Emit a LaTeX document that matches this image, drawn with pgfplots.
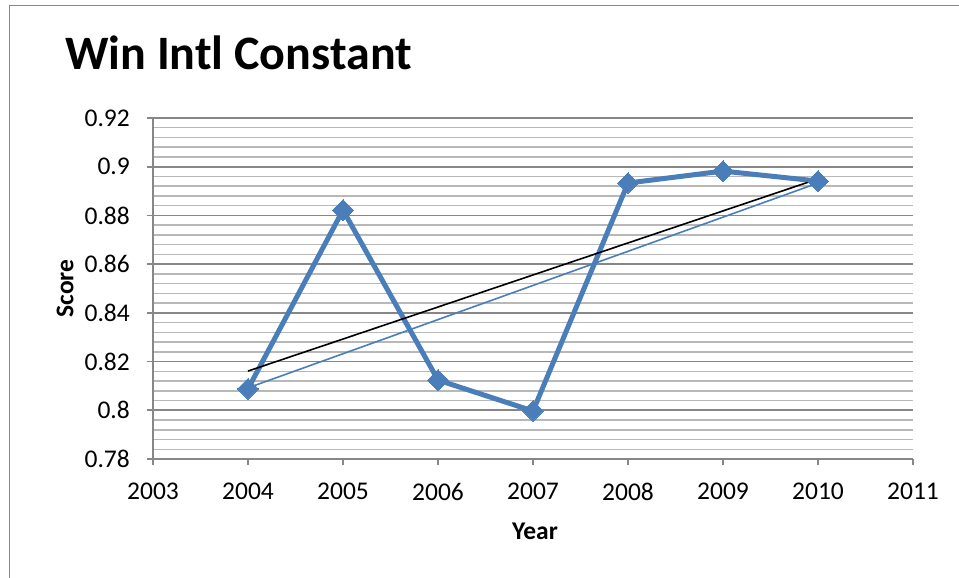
\documentclass[border=0pt]{standalone}
\usepackage{fontspec}
\setmainfont{Carlito}
\usepackage{pgfplots}
\pgfplotsset{compat=1.18}
\definecolor{excelblue}{HTML}{4A7EBB}
\definecolor{majgrid}{HTML}{878787}
\definecolor{mingrid}{HTML}{B8B8B8}
\begin{document}
\begin{tikzpicture}[x=1pt,y=1pt]
\useasboundingbox (0,0) rectangle (959,578);
\draw[color=majgrid, line width=1.6pt] (9.5,-20) -- (9.5,572.5) -- (980,572.5);
\node[anchor=base west, inner sep=0pt, font=\fontsize{48}{58}\selectfont\bfseries] at (65,508) {Win Intl Constant};
\begin{axis}[
  at={(153pt,119pt)}, anchor=south west,
  width=760pt, height=341pt, scale only axis,
  xmin=2003, xmax=2011, ymin=0.78, ymax=0.92,
  xtick={2003,2004,2005,2006,2007,2008,2009,2010,2011},
  ytick={0.78,0.8,0.82,0.84,0.86,0.88,0.9,0.92},
  yticklabels={0.78,0.8,0.82,0.84,0.86,0.88,0.9,0.92},
  minor y tick num=4,
  ymajorgrids, yminorgrids,
  major grid style={color=majgrid, line width=1.6pt},
  minor grid style={color=mingrid, line width=1.5pt},
  axis x line*=bottom, axis y line*=left,
  axis line style={color=majgrid, line width=1.6pt},
  tick align=outside,
  major tick length=6pt, minor tick length=0pt,
  tick style={color=majgrid, line width=1.6pt},
  /pgf/number format/1000 sep={},
  /pgf/number format/assume math mode=true,
  ticklabel style={font=\fontsize{25.5}{30}\selectfont, inner sep=0pt},
  yticklabel style={anchor=east, xshift=-17pt},
  xticklabel style={anchor=north, yshift=-18pt},
  xlabel={Year}, ylabel={Score},
  label style={font=\fontsize{25.5}{30}\selectfont\bfseries, inner sep=0pt},
  xlabel style={at={(axis description cs:0.5026,-0.2375)}, anchor=base},
  ylabel style={at={(axis description cs:-0.1158,0.50)}, anchor=center, rotate=0},
]
\addplot[color=excelblue, line width=5pt, mark=square*, mark size=7.4pt, mark options={rotate=45, line width=0pt, fill=excelblue}] coordinates {
  (2004,0.8088) (2005,0.8822) (2006,0.8124) (2007,0.7997) (2008,0.8933) (2009,0.8982) (2010,0.8941)
};
\addplot[color=black, line width=1.6pt] coordinates {(2004,0.8161) (2010,0.8950)};
\addplot[color=excelblue, line width=1.6pt] coordinates {(2004,0.8092) (2010,0.8933)};
\end{axis}
\end{tikzpicture}
\end{document}
